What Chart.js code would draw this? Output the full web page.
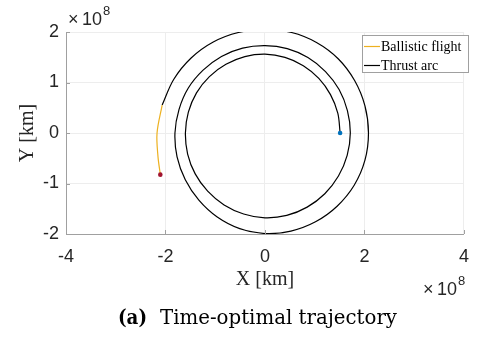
<!DOCTYPE html>
<html><head><meta charset="utf-8">
<script src="https://cdn.jsdelivr.net/npm/chart.js@4/dist/chart.umd.min.js"></script>
<style>html,body{margin:0;padding:0;background:#fff;}#wrap{position:relative;width:481px;height:339px;}</style>
</head><body><div id="wrap"><canvas id="c" width="481" height="339"></canvas></div>
<script>
// Trajectory: angle (deg, counter-clockwise, cumulative) and radius (1e8 km)
const thrustAngle = [0, 15, 30, 45, 60, 75, 90, 105, 120, 135, 150, 165, 180, 195, 210, 225, 240, 255, 270, 285, 300, 315, 330, 345,
  360, 375, 390, 405, 420, 435, 450, 465, 480, 495, 510, 525, 540, 555, 570, 585, 600, 615, 630, 645, 660, 675, 690, 705,
  720, 735, 750, 765, 780, 795, 810, 825, 840, 855, 870, 885];
const thrustRadius = [1.51, 1.515, 1.52, 1.53, 1.54, 1.55, 1.56, 1.565, 1.57, 1.58, 1.59, 1.595, 1.60, 1.61, 1.62, 1.63, 1.645, 1.66, 1.68, 1.69, 1.695, 1.70, 1.705, 1.71,
  1.715, 1.715, 1.72, 1.72, 1.725, 1.73, 1.73, 1.74, 1.75, 1.76, 1.78, 1.79, 1.81, 1.83, 1.85, 1.88, 1.92, 1.96, 1.99, 2.01, 2.03, 2.05, 2.07, 2.08,
  2.08, 2.08, 2.08, 2.08, 2.07, 2.06, 2.05, 2.06, 2.08, 2.10, 2.12, 2.14];
const ballisticAngle = [885, 900, 912, 921.4];
const ballisticRadius = [2.14, 2.17, 2.20, 2.26];
const xTicks = [-4, -2, 0, 2, 4];
const yTicks = [-2, -1, 0, 1, 2];
const seriesNames = ['Ballistic flight', 'Thrust arc'];
const axisTitles = ['X [km]', 'Y [km]'];
const exponentParts = ['\u00d7', '10', '8'];
const captionParts = ['(a)', 'Time-optimal trajectory'];

// polar -> cartesian (coordinate conversion of the read samples)
const toPts = (ang, rad) => ang.map((a, i) => ({x: rad[i] * Math.cos(a * Math.PI / 180), y: rad[i] * Math.sin(a * Math.PI / 180)}));
const thrustPts = toPts(thrustAngle, thrustRadius);
const ballisticPts = toPts(ballisticAngle, ballisticRadius);

const COL_BAL = '#EDB120', COL_THR = '#000000';
const AXIS_COL = '#a0a0a0', GRID_COL = '#ededed', TXT = '#262626';

const decor = {
  id: 'decor',
  afterDraw(chart) {
    const ctx = chart.ctx, ca = chart.chartArea;
    const xs = chart.scales.x, ys = chart.scales.y;
    ctx.save();
    ctx.strokeStyle = AXIS_COL; ctx.lineWidth = 1;
    ctx.beginPath();
    xTicks.forEach(v => { const p = Math.round(xs.getPixelForValue(v)) + 0.5; ctx.moveTo(p, ca.bottom); ctx.lineTo(p, ca.bottom - 4); });
    yTicks.forEach(v => { const p = Math.round(ys.getPixelForValue(v)) + 0.5; ctx.moveTo(ca.left, p); ctx.lineTo(ca.left + 4, p); });
    ctx.stroke();
    ctx.fillStyle = TXT; ctx.textBaseline = 'alphabetic'; ctx.textAlign = 'left';
    const drawExp = (x0, base) => {
      ctx.font = '18px "Liberation Sans", Arial, sans-serif';
      ctx.fillText(exponentParts[0], x0, base);
      ctx.fillText(exponentParts[1], x0 + 14, base);
      const w = ctx.measureText(exponentParts[1]).width;
      ctx.font = '13px "Liberation Sans", Arial, sans-serif';
      ctx.fillText(exponentParts[2], x0 + 14 + w + 1, base - 10);
    };
    drawExp(68, 25);
    drawExp(423, 295);
    const bx = 362.5, by = 35.5, bw = 106, bh = 37;
    ctx.fillStyle = '#fff'; ctx.fillRect(bx, by, bw, bh);
    ctx.strokeStyle = AXIS_COL; ctx.lineWidth = 1; ctx.strokeRect(bx, by, bw, bh);
    const rows = [[COL_BAL, seriesNames[0], 46], [COL_THR, seriesNames[1], 65]];
    ctx.font = '14px "Liberation Serif", "Times New Roman", serif';
    ctx.textBaseline = 'middle';
    rows.forEach(r => {
      ctx.strokeStyle = r[0]; ctx.lineWidth = 1.2;
      ctx.beginPath(); ctx.moveTo(364, r[2] + 0.5); ctx.lineTo(380, r[2] + 0.5); ctx.stroke();
      ctx.fillStyle = '#000'; ctx.fillText(r[1], 381, r[2] + 1);
    });
    ctx.textBaseline = 'alphabetic';
    ctx.fillStyle = '#000';
    ctx.font = 'bold 20px "DejaVu Serif", serif';
    const wa = ctx.measureText(captionParts[0]).width;
    ctx.save(); ctx.translate(118, 324); ctx.scale(29 / wa, 1); ctx.fillText(captionParts[0], 0, 0); ctx.restore();
    ctx.font = '20px "DejaVu Serif", serif';
    const wt = ctx.measureText(captionParts[1]).width;
    ctx.save(); ctx.translate(160, 324); ctx.scale(237 / wt, 1); ctx.fillText(captionParts[1], 0, 0); ctx.restore();
    ctx.restore();
  }
};

new Chart(document.getElementById('c'), {
  type: 'scatter',
  data: {
    datasets: [
      {label: 'start', data: [thrustPts[0]], pointRadius: 2.3, pointBackgroundColor: '#0072BD', pointBorderWidth: 0, showLine: false},
      {label: 'end', data: [ballisticPts[ballisticPts.length - 1]], pointRadius: 2.3, pointBackgroundColor: '#A2142F', pointBorderWidth: 0, showLine: false},
      {label: seriesNames[0], data: ballisticPts, showLine: true, borderColor: COL_BAL, borderWidth: 1.2, pointRadius: 0, tension: 0.34, fill: false},
      {label: seriesNames[1], data: thrustPts, showLine: true, borderColor: COL_THR, borderWidth: 1.2, pointRadius: 0, tension: 0.34, fill: false}
    ]
  },
  options: {
    responsive: false, animation: false, devicePixelRatio: 1, events: [],
    layout: {padding: {top: 32, right: 10, left: 0, bottom: 0}},
    plugins: {legend: {display: false}, tooltip: {enabled: false}, title: {display: false}},
    elements: {line: {capBezierPoints: false}},
    scales: {
      x: {
        type: 'linear', min: -4, max: 4,
        afterBuildTicks: s => { s.ticks = xTicks.map(v => ({value: v})); },
        afterFit: s => { s.height = 105; },
        grid: {color: GRID_COL, drawTicks: false},
        border: {color: AXIS_COL, width: 1},
        ticks: {color: TXT, padding: 12, font: {family: '"Liberation Sans", Arial, sans-serif', size: 18}},
        title: {display: true, text: axisTitles[0], color: TXT, font: {family: '"Liberation Serif", "Times New Roman", serif', size: 20}, padding: {top: 0, bottom: 47}}
      },
      y: {
        type: 'linear', min: -2, max: 2,
        afterBuildTicks: s => { s.ticks = yTicks.map(v => ({value: v})); },
        afterFit: s => { s.width = 66; },
        grid: {color: GRID_COL, drawTicks: false},
        border: {color: AXIS_COL, width: 1},
        ticks: {color: TXT, padding: 7, font: {family: '"Liberation Sans", Arial, sans-serif', size: 18}},
        title: {display: true, text: axisTitles[1], color: TXT, font: {family: '"Liberation Serif", "Times New Roman", serif', size: 20}, padding: {top: 16, bottom: 0}}
      }
    }
  },
  plugins: [decor]
});
</script></body></html>
